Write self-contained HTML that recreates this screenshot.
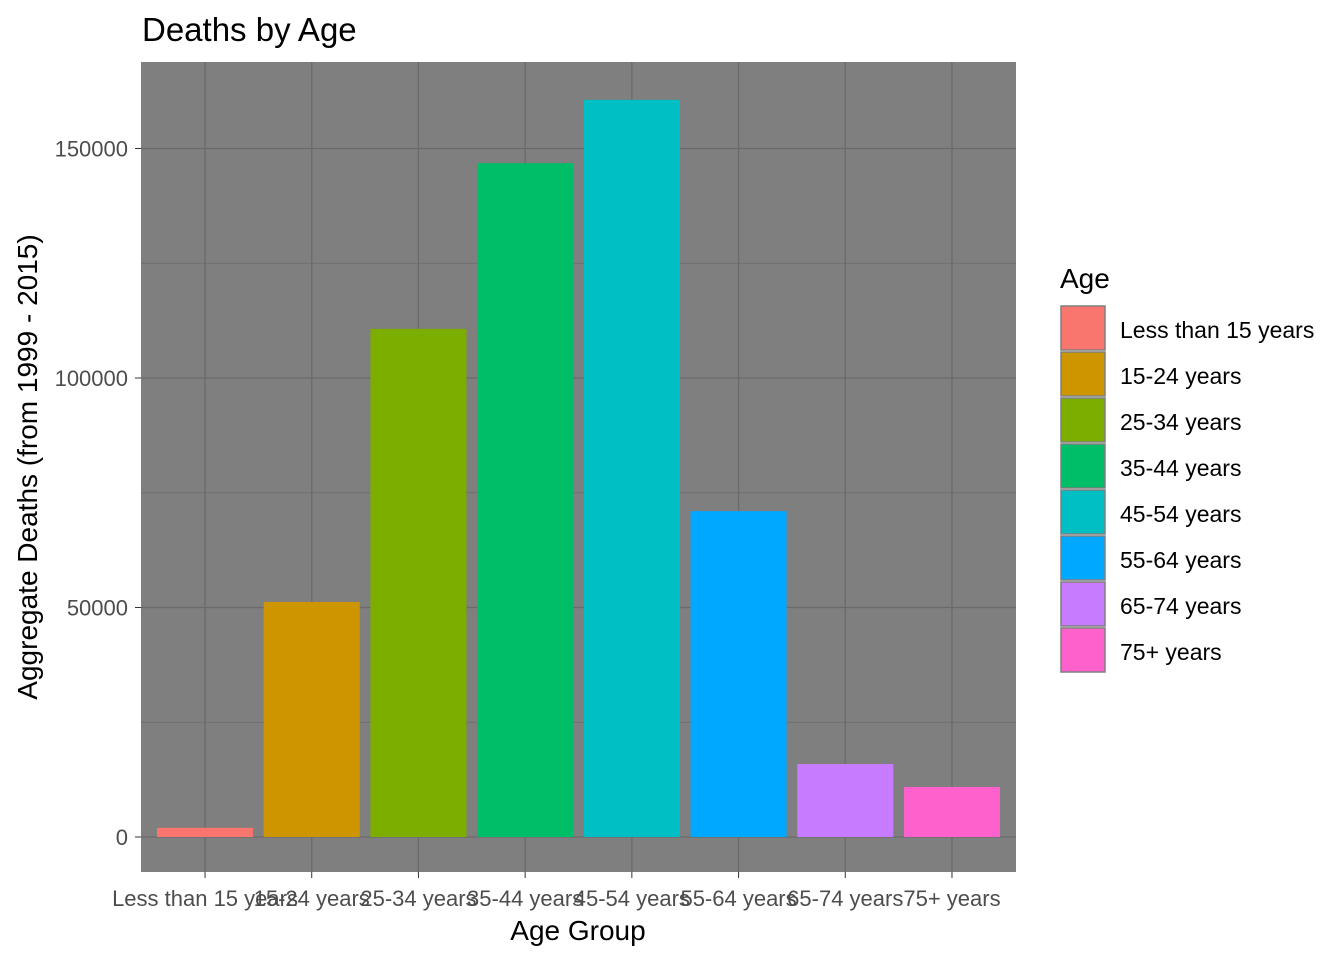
<!DOCTYPE html>
<html><head><meta charset="utf-8"><style>
body{margin:0;background:#fff;font-family:"Liberation Sans",sans-serif}
svg text{font-family:"Liberation Sans",sans-serif}
</style></head><body>
<svg id="chart" width="1344" height="960" xmlns="http://www.w3.org/2000/svg">
<text x="142" y="41" font-size="33" fill="#000">Deaths by Age</text>
<rect x="141" y="62" width="875" height="810" fill="#7f7f7f"/>
<g id="grid"></g><g id="bars"></g><g id="axes"></g>
<text x="578" y="940" font-size="28" text-anchor="middle">Age Group</text>
<text transform="translate(37,467) rotate(-90)" font-size="28" text-anchor="middle">Aggregate Deaths (from 1999 - 2015)</text>
<text x="1060" y="288" font-size="28">Age</text>
<g id="legend"></g>
</svg>
<script>
const categories=["Less than 15 years","15-24 years","25-34 years","35-44 years","45-54 years","55-64 years","65-74 years","75+ years"];
const deaths=[2000,51200,110700,146800,160600,71000,15900,10900];
const colors=["#F8766D","#CD9600","#7CAE00","#00BE67","#00BFC4","#00A9FF","#C77CFF","#FF61CC"];
const yTicks=[0,50000,100000,150000];
const NS="http://www.w3.org/2000/svg";
const y=v=>837-v*(229.5/50000);
const step=875/8.2, x=i=>141+step*(0.6+i);
const bw=step*0.9;
function mk(t,a,p){const e=document.createElementNS(NS,t);for(const k in a)e.setAttribute(k,a[k]);p.appendChild(e);return e;}
const grid=document.getElementById('grid'),bars=document.getElementById('bars'),axes=document.getElementById('axes'),leg=document.getElementById('legend');
for(let v=0;v<=175000;v+=25000){if(y(v)<62)break;const l=mk('line',{x1:141,x2:1016,y1:y(v),y2:y(v),stroke:'#6a6a6a','stroke-width':v%50000?0.8:1.3},grid);

}
categories.forEach((c,i)=>{const l=mk('line',{x1:x(i),x2:x(i),y1:62,y2:872,stroke:'#6a6a6a','stroke-width':1.3},grid);


const r=mk('rect',{x:x(i)-bw/2,y:y(deaths[i]),width:bw,height:y(0)-y(deaths[i]),fill:colors[i]},bars);


const t=mk('text',{x:x(i),y:906,'font-size':22,fill:'#4d4d4d','text-anchor':'middle'},axes);t.textContent=c;


const tk=mk('line',{x1:x(i),x2:x(i),y1:872,y2:878,stroke:'#333'},axes);


const k=mk('rect',{x:1061,y:306+i*46,width:44,height:44,fill:colors[i],stroke:'#7f7f7f','stroke-width':1.5},leg);


const lt=mk('text',{x:1120,y:338+i*46,'font-size':23,fill:'#000'},leg);lt.textContent=c;

});
yTicks.forEach(v=>{const t=mk('text',{x:128,y:y(v)+8,'font-size':22,fill:'#4d4d4d','text-anchor':'end'},axes);t.textContent=v;


const tk=mk('line',{x1:135,x2:141,y1:y(v),y2:y(v),stroke:'#333'},axes);

});
</script>
</body></html>
